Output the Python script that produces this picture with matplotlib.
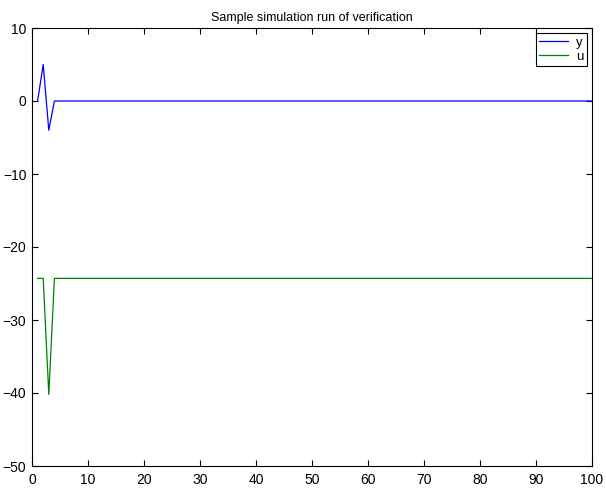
import matplotlib
matplotlib.use('Agg')
import matplotlib.pyplot as plt
import numpy as np

plt.rcParams['font.family'] = ['Liberation Sans', 'DejaVu Sans']

# simulation samples (k = 1..100)
k = np.arange(1, 101)
y_start = [0, 5, -4]
y_rest = 0.0
u_start = [-24.3, -24.3, -40.2]
u_rest = -24.3

y = np.array(y_start + [y_rest] * (len(k) - len(y_start)))
u = np.array(u_start + [u_rest] * (len(k) - len(u_start)))

fig = plt.figure(figsize=(6.06, 4.92), dpi=100)
ax = fig.add_axes([32 / 606, 1 - 466 / 492, 560 / 606, 438 / 492])

ax.plot(k, y, color='#0000ff', lw=0.9, label='y')
ax.plot(k, u, color='#008000', lw=0.9, label='u')

ax.set_xlim(0, 100)
ax.set_ylim(-50, 10)
ax.set_xticks(np.arange(0, 101, 10))
ax.set_yticks(np.arange(-50, 11, 10))
ax.tick_params(direction='in', top=True, right=True, labelsize=10, length=4, width=0.8)
ax.tick_params(axis='x', pad=5)
ax.tick_params(axis='y', pad=4)
for s in ax.spines.values():
    s.set_linewidth(0.8)

ax.set_title('Sample simulation run of verification', fontsize=9, pad=5)

leg = ax.legend(loc='upper right', fontsize=9.5, fancybox=False, framealpha=1,
                edgecolor='black', borderaxespad=0.4, handlelength=2.2,
                borderpad=0.25, labelspacing=0.15, handletextpad=0.6)
leg.get_frame().set_linewidth(0.8)

fig.savefig('out.png', dpi=100)
